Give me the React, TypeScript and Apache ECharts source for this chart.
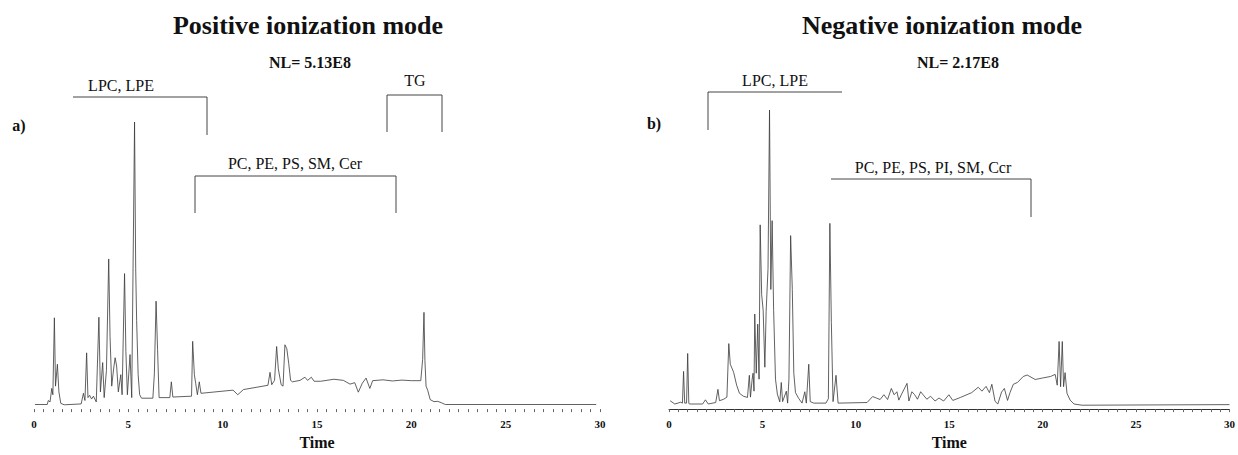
import React, { useEffect, useRef } from "react";
import * as echarts from "echarts";

// Retention time (min) and relative intensity (%) — positive ionization mode
const posTime = [0.05, 0.7, 0.76, 0.85, 0.94, 1.0, 1.08, 1.14, 1.24, 1.32, 1.42, 1.6, 2.5, 2.62, 2.7, 2.79, 2.86, 2.95, 3.05, 3.15, 3.3, 3.44, 3.52, 3.64, 3.72, 3.84, 3.96, 4.03, 4.12, 4.22, 4.3, 4.38, 4.47, 4.6, 4.67, 4.8, 4.87, 4.95, 5.09, 5.18, 5.33, 5.39, 5.44, 5.52, 5.6, 5.7, 6.3, 6.38, 6.47, 6.55, 6.63, 7.2, 7.28, 7.36, 8.35, 8.41, 8.5, 8.57, 8.66, 8.76, 8.85, 10.55, 10.8, 11.1, 12.4, 12.51, 12.6, 12.75, 12.86, 12.95, 13.1, 13.2, 13.3, 13.4, 13.5, 13.6, 13.7, 14.1, 14.36, 14.5, 14.7, 14.85, 15.2, 15.9, 16.4, 16.75, 17.0, 17.19, 17.4, 17.6, 17.8, 17.95, 18.5, 19.0, 19.5, 20.0, 20.5, 20.6, 20.67, 20.72, 20.78, 20.87, 21.0, 21.2, 21.4, 21.6, 21.8, 29.8];
const posIntensity = [1.6, 1.6, 3, 2.5, 7.2, 5, 31.8, 8, 15.6, 6, 2, 1.5, 1.8, 5.5, 3, 19.6, 4, 4.8, 3.5, 4.5, 2.5, 32, 6, 16.2, 4, 13.5, 52.3, 25.3, 8, 14, 17.9, 15, 6, 12, 5, 47.2, 20, 5, 19, 4, 100, 48.9, 30.9, 12, 5, 3.8, 3.8, 12.3, 37.6, 20.7, 4, 4, 9.5, 4.2, 4.5, 23.6, 12, 9, 5, 9.5, 5.5, 6.6, 5, 6.8, 8.3, 12.8, 8.5, 10, 21.8, 14, 8.5, 8, 22.4, 21, 16, 10, 9.5, 10, 11.1, 10, 11.1, 9.7, 9.7, 10.4, 10, 8.7, 9.2, 5.9, 9, 10.8, 7.2, 9.9, 10.2, 9.8, 10.1, 9.9, 9.9, 17.3, 33.7, 17, 8, 6.5, 3.3, 2.6, 2.7, 2.2, 1.6, 1.6];

// Negative ionization mode
const negTime = [0.06, 0.31, 0.63, 0.72, 0.78, 0.84, 0.94, 1.0, 1.06, 1.09, 1.8, 1.95, 2.1, 2.5, 2.62, 2.7, 2.93, 3.1, 3.2, 3.28, 3.46, 3.62, 3.77, 3.98, 4.2, 4.3, 4.36, 4.45, 4.5, 4.55, 4.59, 4.67, 4.75, 4.82, 4.88, 4.96, 5.04, 5.13, 5.2, 5.3, 5.38, 5.45, 5.52, 5.6, 5.7, 5.8, 5.93, 6.01, 6.08, 6.28, 6.35, 6.42, 6.51, 6.6, 6.68, 6.77, 6.95, 7.12, 7.27, 7.35, 7.48, 7.56, 7.75, 8.4, 8.53, 8.61, 8.69, 8.78, 8.94, 9.05, 10.6, 10.9, 11.1, 11.3, 11.5, 11.7, 11.9, 12.05, 12.2, 12.3, 12.45, 12.74, 12.84, 13.0, 13.15, 13.3, 13.47, 13.6, 13.8, 14.0, 14.24, 14.45, 14.7, 14.98, 15.19, 15.6, 16.2, 16.55, 16.75, 16.97, 17.15, 17.28, 17.45, 17.6, 17.8, 17.95, 18.12, 18.25, 18.43, 18.65, 18.96, 19.17, 19.6, 20.0, 20.42, 20.67, 20.78, 20.88, 20.96, 21.05, 21.12, 21.2, 21.3, 21.47, 21.68, 22.1, 30];
const negIntensity = [2.8, 1.7, 2.3, 2, 12.6, 2, 2, 18.6, 2, 1.7, 1.7, 3.1, 1.7, 2.2, 6.6, 2.8, 3.3, 4, 21.9, 15, 12.3, 8, 5.3, 4.3, 3.9, 11.3, 4, 10, 12, 6, 31.8, 12, 28.4, 10, 61.6, 38.3, 33, 14, 32.7, 47, 100, 40, 63, 33, 10, 5, 2.4, 8.9, 2.5, 6, 2, 10, 58, 40, 12, 5.5, 3.5, 2, 5.8, 2, 15, 2.5, 2, 2, 3.5, 62.1, 29, 2.5, 11.3, 2, 2.2, 4.2, 3.7, 3.2, 4.8, 3.2, 6.9, 4.8, 5.8, 3, 5, 8.6, 2.7, 5.8, 4.8, 3.3, 5.8, 4.8, 3.3, 4.3, 2.7, 3.7, 2.7, 4.8, 2.9, 3.9, 5.5, 7.3, 6, 7.6, 5.5, 8.3, 2.6, 1.7, 5.7, 6.9, 2.9, 5.5, 8.3, 8.9, 10.9, 11.4, 9.9, 10.4, 10.9, 11.6, 8, 22.6, 7.5, 22.6, 7.5, 12.2, 5.3, 3, 1.7, 1.3, 1.5];

const titles = ["Positive ionization mode", "Negative ionization mode"];
const normLevels = ["NL= 5.13E8", "NL= 2.17E8"];
const panelLabels = ["a)", "b)"];
const posGroups = ["LPC, LPE", "PC, PE, PS, SM, Cer", "TG"];
const negGroups = ["LPC, LPE", "PC, PE, PS, PI, SM, Ccr"];
const xMin = 0;
const xMax = 30;
const axisName = "Time";

const serif = "Liberation Serif, Times New Roman, serif";
const ink = "#333";

function xAxisCfg(gridIndex: number, showLine: boolean) {
  return {
    type: "value",
    gridIndex,
    min: xMin,
    max: xMax,
    interval: 0.5,
    name: axisName,
    nameLocation: "middle",
    nameGap: 21,
    nameTextStyle: { fontFamily: serif, fontWeight: "bold", fontSize: 16, color: "#111" },
    axisLine: { show: showLine, lineStyle: { color: ink, width: 1 } },
    axisTick: { show: true, length: 3, lineStyle: { color: "#666", width: 1 } },
    splitLine: { show: false },
    axisLabel: {
      margin: 9,
      fontFamily: serif,
      fontWeight: "bold",
      fontSize: 11,
      color: "#111",
      formatter: (v: number) => (v % 5 === 0 ? String(v) : ""),
    },
  };
}

function yAxisCfg(gridIndex: number) {
  return { type: "value", gridIndex, min: 0, max: 100, show: false, splitLine: { show: false } };
}

function txt(text: string, x: number, y: number, size: number, bold: boolean) {
  return {
    type: "text",
    x,
    y,
    style: {
      text,
      fontFamily: serif,
      fontSize: size,
      fontWeight: bold ? "bold" : "normal",
      fill: "#111",
      align: "center",
      verticalAlign: "middle",
    },
  };
}

function bracket(points: number[][]) {
  return {
    type: "polyline",
    shape: { points },
    style: { stroke: "#444", lineWidth: 1, fill: null },
  };
}

export default function App() {
  const ref = useRef<HTMLDivElement>(null);
  useEffect(() => {
    document.body.style.margin = "0";
    if (!ref.current) return;
    const chart = echarts.init(ref.current, undefined, { renderer: "svg" });
    const posData = posTime.map((t, i) => [t, posIntensity[i]]);
    const negData = negTime.map((t, i) => [t, negIntensity[i]]);
    chart.setOption({
      animation: false,
      backgroundColor: "#fff",
      grid: [
        { left: 34, top: 122, width: 566, height: 296 },
        { left: 669, top: 110, width: 566, height: 308 },
      ],
      xAxis: [xAxisCfg(0, false), xAxisCfg(1, true)],
      yAxis: [yAxisCfg(0), yAxisCfg(1)],
      series: [
        {
          type: "line",
          xAxisIndex: 0,
          yAxisIndex: 0,
          data: posData,
          showSymbol: false,
          lineStyle: { color: "#3a3a3a", width: 0.8 },
        },
        {
          type: "line",
          xAxisIndex: 1,
          yAxisIndex: 1,
          data: negData,
          showSymbol: false,
          lineStyle: { color: "#3a3a3a", width: 0.8 },
        },
      ],
      graphic: [
        txt(titles[0], 308, 25, 26, true),
        txt(titles[1], 942, 25, 26, true),
        txt(normLevels[0], 310, 62, 16, true),
        txt(normLevels[1], 958, 62, 16, true),
        txt(panelLabels[0], 19, 125, 16, true),
        txt(panelLabels[1], 654, 123, 16, true),
        txt(posGroups[0], 121, 85, 16, false),
        txt(posGroups[1], 295, 163, 16, false),
        txt(posGroups[2], 415, 80, 16, false),
        txt(negGroups[0], 775, 80, 16, false),
        txt(negGroups[1], 933, 167, 16, false),
        bracket([[73, 97], [207, 97], [207, 135]]),
        bracket([[387, 132], [387, 95], [442, 95], [442, 132]]),
        bracket([[195, 213], [195, 176], [396, 176], [396, 213]]),
        bracket([[708, 130], [708, 92], [842, 92]]),
        bracket([[831, 179], [1031, 179], [1031, 217]]),
      ],
    });
    return () => chart.dispose();
  }, []);
  return <div ref={ref} style={{ width: 1238, height: 455 }} />;
}
